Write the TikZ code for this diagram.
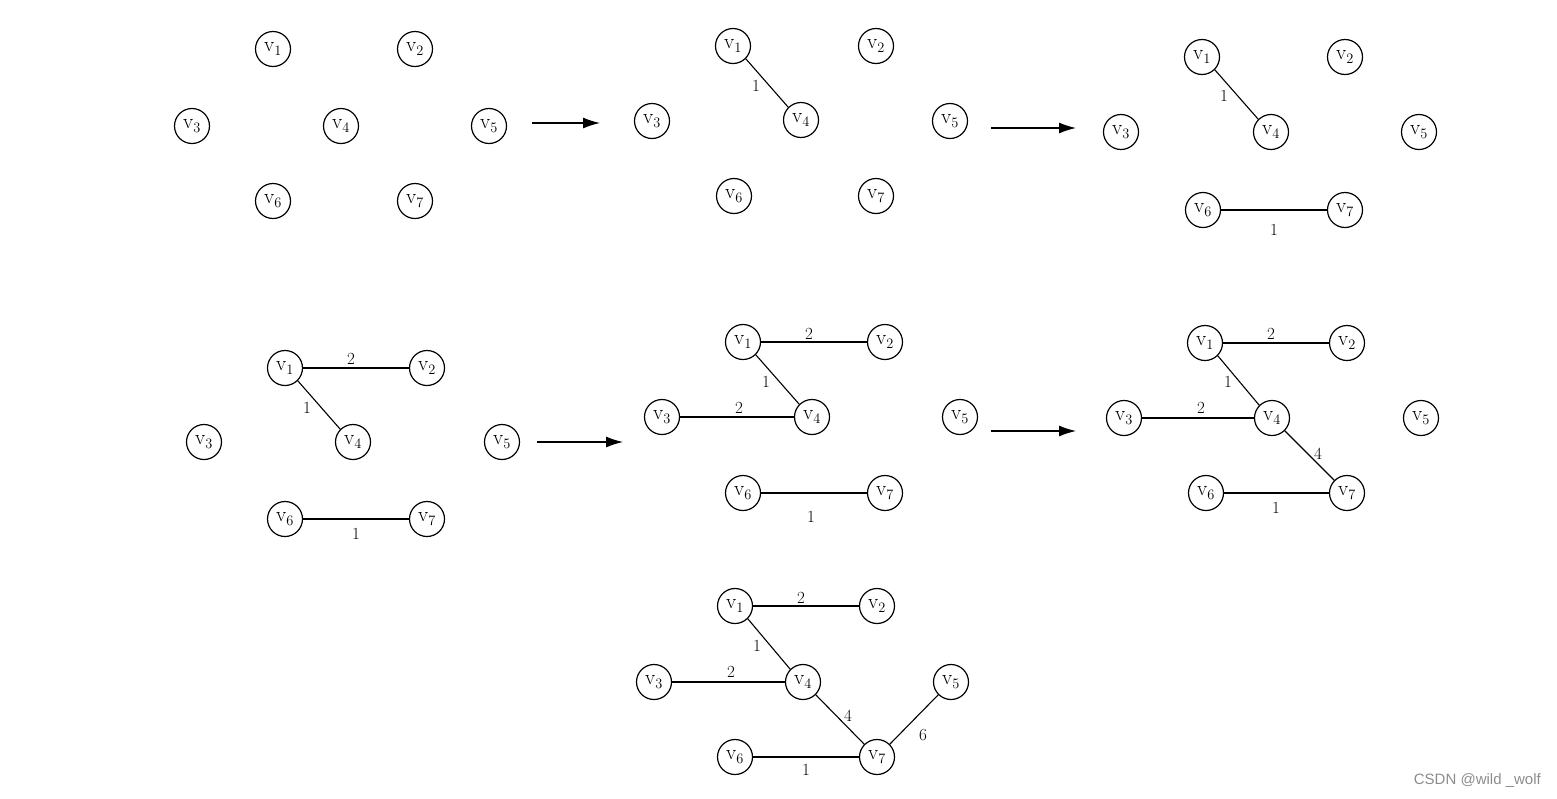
\documentclass[tikz,border=0pt]{standalone}
\usepackage{fontspec}
\newfontfamily\wmfont{Liberation Sans}
\usetikzlibrary{arrows.meta}
\tikzset{
  vtx/.style={circle,draw,line width=1.2pt,minimum size=35pt,inner sep=0pt,font=\fontsize{21}{22}\selectfont},
  edge/.style={line width=1.1pt},
  wlab/.style={font=\fontsize{17}{18}\selectfont,inner sep=0pt},
  bigarrow/.style={line width=1.2pt,-{Latex[length=17pt,width=11pt]}},
}
\newcommand{\vlab}[1]{v$_{#1}$}
\begin{document}
\begin{tikzpicture}[x=1pt,y=-1pt]
\useasboundingbox (0,0) rectangle (1557,798);
% graph 1
\node[vtx] (a1) at (273,49) {\vlab1};
\node[vtx] (a2) at (415,49) {\vlab2};
\node[vtx] (a3) at (192,126) {\vlab3};
\node[vtx] (a4) at (341,126) {\vlab4};
\node[vtx] (a5) at (489,126) {\vlab5};
\node[vtx] (a6) at (273,201) {\vlab6};
\node[vtx] (a7) at (415,201) {\vlab7};
\coordinate (ar1s) at (532,123);
\coordinate (ar1e) at (600,123);
\draw[bigarrow] (ar1s) -- (ar1e);
% graph 2
\node[vtx] (b1) at (733,46) {\vlab1};
\node[vtx] (b2) at (876,46) {\vlab2};
\node[vtx] (b3) at (652,121) {\vlab3};
\node[vtx] (b4) at (801,120) {\vlab4};
\node[vtx] (b5) at (950,121) {\vlab5};
\node[vtx] (b6) at (734,196) {\vlab6};
\node[vtx] (b7) at (876,196) {\vlab7};
\draw[edge] (b1.-45) -- (b4.135);
\node[wlab] (lb14) at (756,86) {1};
\coordinate (ar2s) at (991,128);
\coordinate (ar2e) at (1076,128);
\draw[bigarrow] (ar2s) -- (ar2e);
% graph 3
\node[vtx] (c1) at (1202,57) {\vlab1};
\node[vtx] (c2) at (1345,57) {\vlab2};
\node[vtx] (c3) at (1121,132) {\vlab3};
\node[vtx] (c4) at (1271,132) {\vlab4};
\node[vtx] (c5) at (1419,132) {\vlab5};
\node[vtx] (c6) at (1203,210) {\vlab6};
\node[vtx] (c7) at (1345,210) {\vlab7};
\draw[edge] (c1.-45) -- (c4.135);
\draw[edge] (c6) -- (c7);
\node[wlab] (lc14) at (1224,96) {1};
\node[wlab] (lc67) at (1274,230) {1};
% graph 4
\node[vtx] (d1) at (285,368) {\vlab1};
\node[vtx] (d2) at (427,368) {\vlab2};
\node[vtx] (d3) at (204,442) {\vlab3};
\node[vtx] (d4) at (353,442) {\vlab4};
\node[vtx] (d5) at (502,442) {\vlab5};
\node[vtx] (d6) at (285,519) {\vlab6};
\node[vtx] (d7) at (427,519) {\vlab7};
\draw[edge] (d1) -- (d2);
\draw[edge] (d1.-45) -- (d4.135);
\draw[edge] (d6) -- (d7);
\node[wlab] (ld12) at (351,359) {2};
\node[wlab] (ld14) at (307,408) {1};
\node[wlab] (ld67) at (356,534) {1};
\coordinate (ar3s) at (537,442);
\coordinate (ar3e) at (623,442);
\draw[bigarrow] (ar3s) -- (ar3e);
% graph 5
\node[vtx] (e1) at (743,342) {\vlab1};
\node[vtx] (e2) at (885,342) {\vlab2};
\node[vtx] (e3) at (662,417) {\vlab3};
\node[vtx] (e4) at (812,417) {\vlab4};
\node[vtx] (e5) at (960,417) {\vlab5};
\node[vtx] (e6) at (743,493) {\vlab6};
\node[vtx] (e7) at (885,493) {\vlab7};
\draw[edge] (e1) -- (e2);
\draw[edge] (e1.-45) -- (e4.135);
\draw[edge] (e3) -- (e4);
\draw[edge] (e6) -- (e7);
\node[wlab] (le12) at (809,334) {2};
\node[wlab] (le14) at (766,382) {1};
\node[wlab] (le34) at (739,408) {2};
\node[wlab] (le67) at (811,517) {1};
\coordinate (ar4s) at (991,431);
\coordinate (ar4e) at (1076,431);
\draw[bigarrow] (ar4s) -- (ar4e);
% graph 6
\node[vtx] (f1) at (1205,343) {\vlab1};
\node[vtx] (f2) at (1347,343) {\vlab2};
\node[vtx] (f3) at (1124,418) {\vlab3};
\node[vtx] (f4) at (1272,418) {\vlab4};
\node[vtx] (f5) at (1421,418) {\vlab5};
\node[vtx] (f6) at (1206,493) {\vlab6};
\node[vtx] (f7) at (1347,493) {\vlab7};
\draw[edge] (f1) -- (f2);
\draw[edge] (f1.-45) -- (f4.135);
\draw[edge] (f3) -- (f4);
\draw[edge] (f4.-45) -- (f7.135);
\draw[edge] (f6) -- (f7);
\node[wlab] (lf12) at (1271,334) {2};
\node[wlab] (lf14) at (1228,382) {1};
\node[wlab] (lf34) at (1201,408) {2};
\node[wlab] (lf47) at (1318,454) {4};
\node[wlab] (lf67) at (1276,508) {1};
% graph 7
\node[vtx] (g1) at (735,606) {\vlab1};
\node[vtx] (g2) at (877,606) {\vlab2};
\node[vtx] (g3) at (654,682) {\vlab3};
\node[vtx] (g4) at (803,682) {\vlab4};
\node[vtx] (g5) at (951,682) {\vlab5};
\node[vtx] (g6) at (735,757) {\vlab6};
\node[vtx] (g7) at (877,757) {\vlab7};
\draw[edge] (g1) -- (g2);
\draw[edge] (g1.-45) -- (g4.135);
\draw[edge] (g3) -- (g4);
\draw[edge] (g4.-45) -- (g7.135);
\draw[edge] (g6) -- (g7);
\draw[edge] (g7.45) -- (g5.-135);
\node[wlab] (lg12) at (801,598) {2};
\node[wlab] (lg14) at (757,646) {1};
\node[wlab] (lg34) at (731,672) {2};
\node[wlab] (lg47) at (848,716) {4};
\node[wlab] (lg67) at (806,770) {1};
\node[wlab] (lg75) at (923,735) {6};
% watermark
\node[font=\wmfont\fontsize{15}{16}\selectfont,text=black!45,anchor=east,inner sep=0pt] (wm) at (1541,781) {CSDN @wild \_wolf};
\end{tikzpicture}
\end{document}
